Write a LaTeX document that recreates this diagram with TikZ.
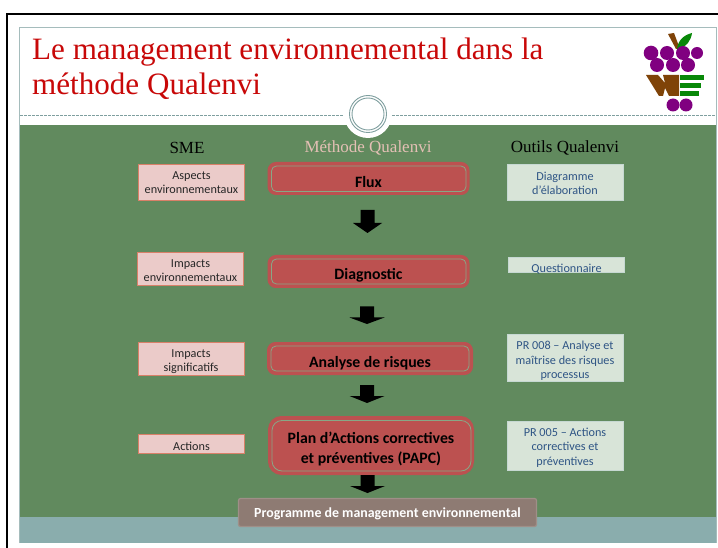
\documentclass[tikz,border=0pt]{standalone}
\usepackage{fontspec}
\setmainfont{Liberation Serif}
\newfontfamily\calfont{Carlito}
\definecolor{slidegreen}{HTML}{618A5E}
\definecolor{teal}{HTML}{8AADAD}
\definecolor{rule}{HTML}{7F9F9F}
\definecolor{titlered}{HTML}{C80808}
\definecolor{redbox}{HTML}{BC5150}
\definecolor{pinkbox}{HTML}{EBCBC9}
\definecolor{pinkline}{HTML}{D98068}
\definecolor{palebox}{HTML}{D8E4D8}
\definecolor{paleline}{HTML}{C6D8D2}
\definecolor{bluetext}{HTML}{2F5585}
\definecolor{brownbox}{HTML}{8E7B73}
\definecolor{grape}{HTML}{800080}
\definecolor{leaf}{HTML}{088808}
\definecolor{stem}{HTML}{7F4308}
\tikzset{x=1pt,y=-1pt,
 headtext/.style={font=\fontsize{17}{19}\selectfont},
 pinkb/.style={draw=pinkline,line width=0.9pt,fill=pinkbox,align=center,inner sep=0pt,font=\calfont\fontsize{12.2}{14}\selectfont,text=black!85},
 paleb/.style={draw=paleline,line width=0.9pt,fill=palebox,align=center,inner sep=0pt,font=\calfont\fontsize{12.2}{14.4}\selectfont,text=bluetext},
 redb/.style={draw=redbox,line width=3pt,fill=redbox,rounded corners=7pt,align=center,inner sep=0pt,font=\calfont\bfseries\fontsize{15.8}{20}\selectfont,text=black},
}
\newcommand{\nudged}[2]{\raisebox{-#1pt}[\height][\depth]{\renewcommand{\arraystretch}{1}\setlength{\tabcolsep}{0pt}\begin{tabular}{c}#2\end{tabular}}}
\newcommand{\arrowat}[5]{\fill[black] (#1-7,#2)--(#1+7,#2)--(#1+7,#3)--(#1+#5,#3)--(#1,#4)--(#1-#5,#3)--(#1-7,#3)--cycle;}
\newcommand{\innerline}[4]{\draw[slidegreen!75!white,line width=0.8pt,rounded corners=5pt] (#1,#2) rectangle (#3,#4);}
\begin{document}
\begin{tikzpicture}
\useasboundingbox (0,0) rectangle (718,548);
\fill[white] (0,0) rectangle (718,548);
% frame
\draw[black,line width=2.2pt] (7,548) -- (7,14) -- (718,14);
\draw[rule!70!white,line width=0.8pt] (19.5,543) -- (19.5,27.5) -- (716,27.5) -- (716,543);
% bands
\fill[slidegreen] (20,125) rectangle (716,517);
\fill[teal] (20,517) rectangle (716,543);
% dashed rule
\draw[rule,dash pattern=on 3pt off 1pt,line width=0.6pt] (20,115) -- (716,115);
% medallion
\fill[white] (368,114) circle (24);
\draw[rule,line width=0.9pt] (368,114) circle (18.5);
\draw[rule,line width=0.9pt] (368,114) circle (16);
% title
\node[anchor=west,text=titlered,font=\fontsize{31.1}{35}\selectfont,inner sep=0pt,align=left] (title) at (32,68.5) {Le management environnemental dans la\\méthode Qualenvi};
% logo
\fill[stem] (668,34) -- (674,33) -- (680,49) -- (676,49) -- cycle;
\fill[leaf] (677,49) .. controls (678,40) and (684,35) .. (692,33) .. controls (691,41) and (686,47) .. (679,49) -- cycle;
\foreach \p/\r in {651/7.3,667/7,683/7,697/6}{\fill[grape] (\p,53) circle (\r);}
\foreach \p in {657,673,688}{\fill[grape] (\p,65) circle (7);}
\fill[stem] (646,75) -- (658,75) -- (665,83) -- (663,75) -- (679,75) -- (679,96) -- (669,96) -- (665,88) -- (663,96) -- (659,96) -- cycle;
\fill[leaf] (680,75) rectangle (704,80);
\fill[leaf] (680,83) rectangle (701,88);
\fill[leaf] (680,91) rectangle (699,96);
\fill[grape] (673,105) circle (6.5);
\fill[grape] (686,105) circle (6.5);
% column heads
\node[headtext,text=black] (h1) at (187,148) {SME};
\node[headtext,text=pinkbox!85!brown] (h2) at (368,148) {Méthode Qualenvi};
\node[headtext,text=black] (h3) at (565,148) {Outils Qualenvi};
% red boxes
\node[redb,minimum width=199pt,minimum height=30pt] (r1) at (368.5,178.5) {\nudged{5}{Flux}};
\innerline{271.5}{166}{466}{191.5}
\node[redb,minimum width=199pt,minimum height=30pt] (r2) at (368.5,271.5) {\nudged{4}{Diagnostic}};
\innerline{271.5}{259}{466}{284}
\node[redb,minimum width=203pt,minimum height=30pt] (r3) at (370,358.5) {\nudged{5}{Analyse de risques}};
\innerline{271}{346}{469}{371}
\node[redb,minimum width=203pt,minimum height=56pt,rounded corners=12pt] (r4) at (371,445.5) {\nudged{4}{Plan d’Actions correctives\\et préventives (PAPC)}};
\draw[slidegreen!75!white,line width=0.8pt,rounded corners=10pt] (272,420.5) rectangle (471,471);
% arrows
\arrowat{367.5}{210}{223}{233}{14.5}
\arrowat{367}{306.5}{317.5}{324}{17.5}
\arrowat{367}{385}{396}{403}{17.5}
\arrowat{367.5}{475}{486}{493}{17.5}
% left boxes
\node[pinkb,minimum width=106pt,minimum height=36pt] (p1) at (191.5,182.5) {\nudged{1}{Aspects\\environnementaux}};
\node[pinkb,minimum width=106pt,minimum height=33pt] (p2) at (190.5,268.5) {\nudged{3.5}{Impacts\\environnementaux}};
\node[pinkb,minimum width=106pt,minimum height=33pt] (p3) at (191,358.5) {\nudged{3}{Impacts\\significatifs}};
\node[pinkb,minimum width=106pt,minimum height=19pt] (p4) at (191.5,444) {\nudged{3.5}{Actions}};
% right boxes
\node[paleb,minimum width=116pt,minimum height=36pt] (q1) at (565,182.5) {\nudged{2}{Diagramme\\d’élaboration}};
\node[paleb,minimum width=116pt,minimum height=15pt] (q2) at (566.5,265) {\nudged{4.5}{Questionnaire}};
\node[paleb,minimum width=116pt,minimum height=47pt] (q3) at (565,357.5) {\nudged{4}{PR 008 – Analyse et\\maîtrise des risques\\processus}};
\node[paleb,minimum width=116pt,minimum height=49pt] (q4) at (565,446) {\nudged{2}{PR 005 – Actions\\correctives et\\préventives}};
% bottom box
\node[draw=brownbox!85!white,line width=1.2pt,fill=brownbox,rounded corners=2pt,minimum width=298pt,minimum height=28pt,inner sep=0pt,text=white,font=\calfont\bfseries\fontsize{13.9}{15}\selectfont] (b) at (387.5,512.5) {\nudged{2}{Programme de management environnemental}};
\end{tikzpicture}
\end{document}
